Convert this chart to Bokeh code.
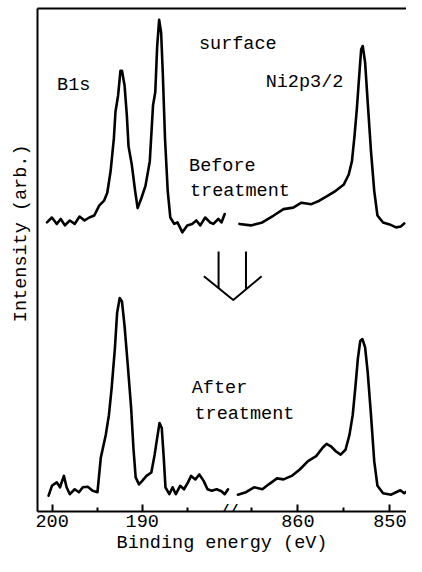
from bokeh.plotting import figure
from bokeh.models import FixedTicker, LinearAxis, Label, Range1d, Title
from bokeh.core.properties import value
from bokeh.embed import file_html
from bokeh.resources import INLINE

FONT = "Liberation Mono"
FS = "18.5px"

# ---- data (binding energy in eV, intensity in arb. units) ----
b1s_before_be = [200.58, 200.03, 199.49, 199.05, 198.59, 198.04, 197.50, 196.96, 196.41, 195.87,
                 195.33, 194.78, 194.24, 193.88, 193.51, 193.15, 192.97, 192.68, 192.42, 192.25,
                 191.96, 191.71, 191.52, 191.16, 190.79, 190.51, 190.08, 189.64, 189.16, 188.80,
                 188.55, 188.34, 188.12, 187.90, 187.72, 187.47, 187.17, 186.88, 186.45, 186.09,
                 185.54, 185.00, 184.46, 183.99, 183.55, 183.01, 182.47, 182.10, 181.55, 181.20, 180.84]
b1s_before_i = [58.5, 59.5, 58.2, 59.2, 57.9, 58.9, 58.2, 59.7, 58.9, 59.5,
                59.9, 61.9, 62.9, 64.5, 68.9, 75.5, 80.9, 84.2, 89.2, 89.2,
                86.2, 80.2, 73.9, 70.2, 64.9, 61.4, 63.5, 65.9, 70.9, 82.2,
                84.9, 94.2, 99.5, 96.9, 88.9, 75.5, 64.9, 59.5, 58.2, 58.5,
                56.5, 57.9, 58.2, 58.9, 57.9, 59.5, 58.5, 58.2, 59.2, 58.5, 60.2]

ni_before_be = [866.35, 865.11, 863.86, 862.63, 861.56, 860.50, 859.61, 858.54, 857.66, 856.78,
                855.88, 855.00, 854.47, 854.12, 853.83, 853.59, 853.33, 853.12, 852.95, 852.69,
                852.41, 852.05, 851.70, 851.35, 850.74, 850.03, 849.33, 848.80, 848.44]
ni_before_i = [58.2, 57.9, 58.5, 59.9, 61.2, 61.5, 62.5, 62.2, 62.9, 63.9,
               64.9, 66.2, 68.2, 70.9, 76.2, 81.5, 88.2, 93.5, 94.2, 90.9,
               82.9, 72.9, 64.9, 59.9, 58.5, 58.1, 57.5, 57.7, 58.3]

b1s_after_be = [200.40, 200.03, 199.49, 199.13, 198.70, 198.40, 198.04, 197.50, 197.03, 196.60,
                196.05, 195.51, 194.97, 194.60, 194.05, 193.70, 193.40, 193.04, 192.79, 192.50,
                192.25, 191.96, 191.60, 191.23, 190.98, 190.73, 190.36, 190.00, 189.53, 188.99,
                188.62, 188.34, 188.08, 187.83, 187.61, 187.42, 186.99, 186.63, 186.27, 185.79,
                185.36, 184.92, 184.57, 184.10, 183.66, 183.18, 182.75, 182.28, 181.74, 181.20,
                180.84, 180.47]
b1s_after_i = [3.2, 5.2, 5.9, 4.9, 7.2, 4.9, 3.5, 4.5, 3.9, 4.9,
               5.0, 4.2, 3.9, 10.9, 15.5, 19.5, 24.9, 32.9, 40.2, 43.2,
               42.5, 37.5, 29.5, 20.9, 12.9, 6.9, 5.5, 6.2, 7.2, 7.9,
               11.5, 14.9, 17.9, 16.9, 10.9, 4.9, 3.5, 4.9, 3.5, 5.2,
               4.5, 5.9, 7.2, 6.5, 7.5, 6.2, 4.5, 4.2, 4.5, 4.1,
               3.5, 4.5]

ni_after_be = [866.52, 865.64, 864.76, 863.86, 863.16, 862.27, 861.56, 860.67, 859.79, 858.90,
               858.01, 857.31, 856.88, 856.41, 855.88, 855.35, 854.82, 854.39, 854.04, 853.76,
               853.48, 853.22, 852.98, 852.69, 852.41, 852.05, 851.70, 851.35, 850.74, 849.86,
               849.33, 848.86, 848.44, 848.09, 847.73]
ni_after_i = [3.4, 3.9, 4.9, 4.5, 5.5, 6.7, 6.5, 7.2, 8.5, 10.2,
              11.2, 12.9, 13.7, 13.2, 12.2, 11.5, 12.5, 15.5, 19.5, 24.9,
              30.9, 34.5, 34.9, 33.2, 28.2, 19.5, 10.2, 5.2, 3.7, 3.4,
              3.9, 4.3, 3.7, 4.2, 5.2]

b1s_major = [200, 190]
b1s_minor = [195, 185]
ni_major = [860, 850]
ni_minor = [865, 855]


# ---- broken x axis: map each energy window onto one display coordinate ----
def u_b(be):
    return 15 + (200 - be) * 9.2


def u_n(be):
    return 266 + (860 - be) * 9.4


p = figure(width=406, height=556, output_backend="svg", toolbar_location=None,
           x_range=Range1d(0, 377), y_range=Range1d(0, 101.8),
           min_border_left=37, min_border_right=0, min_border_top=8, min_border_bottom=0)
p.outline_line_color = None
p.xgrid.visible = False
p.ygrid.visible = False
p.background_fill_color = "white"
p.border_fill_color = "white"

LW = 2.6
for be, it, f in [(b1s_before_be, b1s_before_i, u_b), (ni_before_be, ni_before_i, u_n),
                  (b1s_after_be, b1s_after_i, u_b), (ni_after_be, ni_after_i, u_n)]:
    p.line([f(v) for v in be], it, line_color="black", line_width=LW,
           line_join="round", line_cap="round")

# x axis
major = [round(u_b(v)) for v in b1s_major] + [round(u_n(v)) for v in ni_major]
minor = [round(u_b(v)) for v in b1s_minor] + [round(u_n(v)) for v in ni_minor]
xa = p.xaxis[0]
xa.ticker = FixedTicker(ticks=major, minor_ticks=minor)
xa.major_label_overrides = {t: str(v) for t, v in zip(major, b1s_major + ni_major)}
xa.axis_line_width = 2
xa.major_tick_in = 7
xa.major_tick_out = 0
xa.minor_tick_in = 4
xa.minor_tick_out = 0
xa.major_tick_line_width = 2
xa.minor_tick_line_width = 2
xa.major_label_text_font = FONT
xa.major_label_text_font_size = FS
xa.major_label_text_color = "black"
xa.major_label_standoff = 3
xa.axis_label = "Binding energy (eV)"
xa.axis_label_text_font = FONT
xa.axis_label_text_font_size = FS
xa.axis_label_text_font_style = "normal"
xa.axis_label_text_color = "black"
xa.axis_label_standoff = 3

# y axis: bare line
ya = p.yaxis[0]
ya.ticker = FixedTicker(ticks=[])
ya.major_label_text_font_size = "0px"
ya.major_label_standoff = 0
ya.axis_line_width = 2
ya.major_tick_line_color = None
ya.minor_tick_line_color = None

# top border
top = LinearAxis(ticker=FixedTicker(ticks=[]), major_label_text_font_size="0px",
                 major_tick_line_color=None, minor_tick_line_color=None,
                 axis_line_width=2, major_label_standoff=0)
p.add_layout(top, "above")

# y label (sits above the frame centre as in the original)
p.add_layout(Title(text="Intensity (arb.)", align="right", offset=136, standoff=11,
                   text_font=FONT, text_font_size=FS, text_font_style="normal",
                   text_color="black"), "left")

# axis break mark
brk_be = 180.3
p.add_layout(Label(x=u_b(brk_be), y=0, text="//", text_align="center", text_baseline="middle",
                   text_font=FONT, text_font_size="15px", text_font_style="bold",
                   text_color="black"))

# annotations
ann_x = [u_b(199.46), u_b(183.7), u_n(863.5), u_b(184.8), u_b(184.7), u_b(184.5), u_b(184.2)]
ann_y = [86.2, 94.6, 86.8, 69.8, 64.8, 24.8, 19.6]
ann_t = ["B1s", "surface", "Ni2p3/2", "Before", "treatment", "After", "treatment"]
p.text(x=ann_x, y=ann_y, text=ann_t, text_font=value(FONT), text_font_size=FS,
       text_baseline="middle", text_align="left", text_color="black")

# down arrow between panels
arrow_xs = [[185, 185], [213, 213], [170, 200, 229]]
arrow_ys = [[52.6, 45.2], [52.6, 45.0], [47.6, 42.8, 47.6]]
p.multi_line(arrow_xs, arrow_ys, line_color="black", line_width=2)

open("out.html", "w").write(file_html(p, INLINE))
